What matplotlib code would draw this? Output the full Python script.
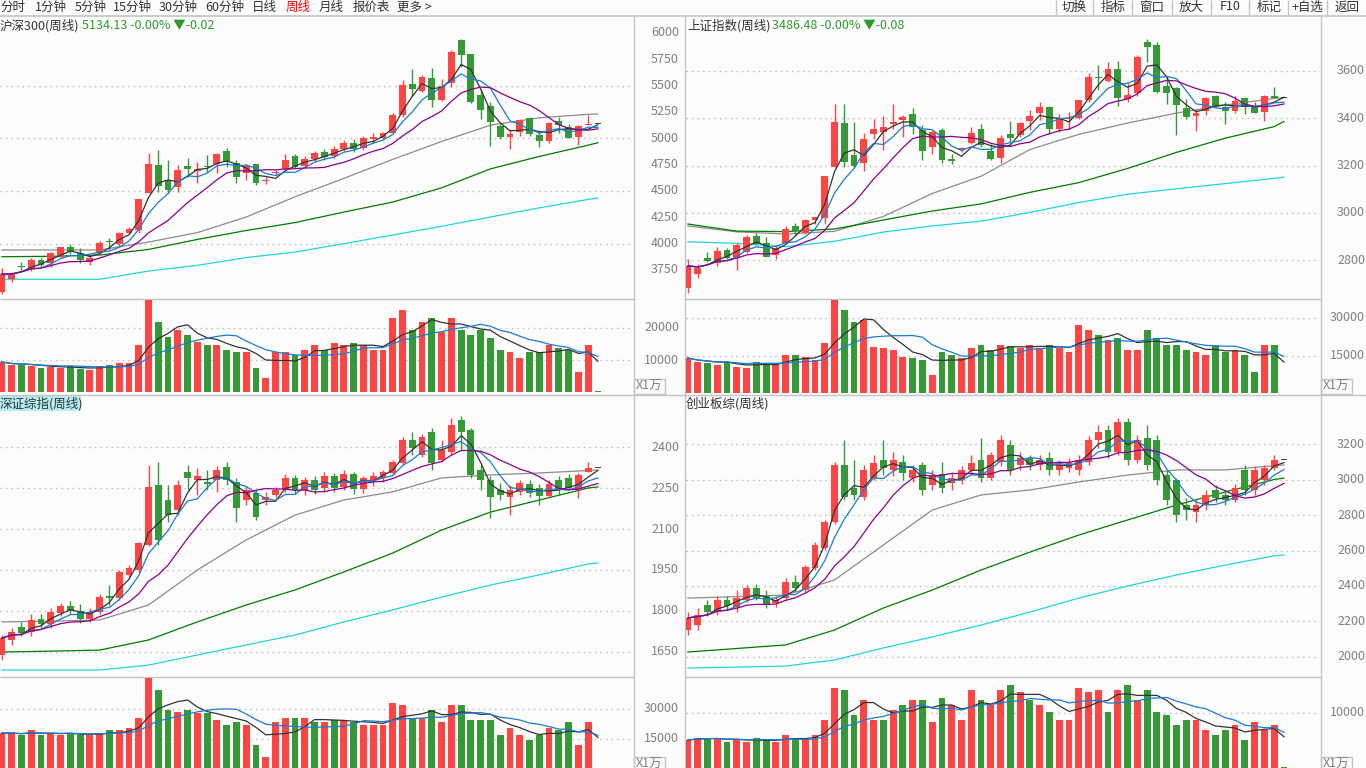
import numpy as np
import pandas as pd
import matplotlib
matplotlib.use('Agg')
import matplotlib.pyplot as plt
from matplotlib.patches import Rectangle
from matplotlib.transforms import blended_transform_factory

plt.rcParams['font.family'] = ['Noto Sans CJK SC', 'DejaVu Sans']

W, H = 1366, 768
BG = '#fcfcfc'
RED = '#ff4444'
GREEN = '#359a35'
FLAT = '#404040'
SEP = '#c4c4c4'
TXT = '#808080'
GRID = '#b8b8b8'
MA_COL = ['#333333', '#1a7bd6', '#8b008b']          # short MAs
MA_N = [3, 5, 10]
LONG_COL = ['#8c8c8c', '#007d00', '#22d4dc']        # long MAs

# ---------------- 沪深300 (weekly) ----------------
hs300_open = [3544, 3662, 3778, 3757, 3845, 3813, 3871, 3971, 3908, 3829,
              3908, 4025, 3997, 4098, 4130, 4478, 4747, 4604, 4541, 4737,
              4693, 4735, 4756, 4880, 4763, 4668, 4756, 4592, 4668, 4706,
              4835, 4740, 4800, 4870, 4830, 4900, 4960, 4910, 4990, 5000,
              5053, 5222, 5516, 5449, 5570, 5364, 5522, 5934, 5801, 5411,
              5307, 5120, 5016, 5063, 5190, 5032, 4978, 5167, 5110, 5016,
              5127, 5134.13]
hs300_close = [3712, 3712, 3774, 3845, 3797, 3908, 3965, 3918, 3845, 3867,
               4003, 4015, 4098, 4139, 4421, 4756, 4550, 4509, 4699, 4709,
               4706, 4728, 4851, 4778, 4636, 4740, 4573, 4602, 4683, 4794,
               4731, 4800, 4860, 4820, 4900, 4960, 4900, 5000, 5010, 5048,
               5222, 5506, 5468, 5585, 5364, 5497, 5817, 5791, 5348, 5269,
               5158, 5016, 5041, 5174, 5041, 4978, 5143, 5127, 5006, 5117,
               5134.15, 5134.13]
hs300_high = [3766, 3728, 3823, 3861, 3861, 3924, 3971, 3997, 3962, 3892,
              4025, 4051, 4113, 4155, 4421, 4858, 4889, 4794, 4747, 4810,
              4778, 4842, 4864, 4911, 4794, 4756, 4756, 4636, 4699, 4851,
              4848, 4830, 4880, 4900, 4930, 4980, 4990, 5020, 5050, 5063,
              5238, 5554, 5655, 5601, 5665, 5560, 5839, 5943, 5801, 5466,
              5348, 5136, 5086, 5181, 5200, 5063, 5158, 5200, 5136, 5127,
              5222, 5134.13]
hs300_low = [3522, 3639, 3750, 3743, 3781, 3776, 3864, 3902, 3819, 3797,
             3892, 3940, 3971, 4092, 4098, 4478, 4493, 4484, 4493, 4636,
             4573, 4683, 4674, 4731, 4573, 4604, 4557, 4567, 4652, 4706,
             4715, 4720, 4780, 4790, 4810, 4880, 4870, 4890, 4960, 4991,
             5048, 5200, 5405, 5443, 5300, 5354, 5490, 5680, 5333, 5181,
             4927, 4991, 4896, 5022, 5022, 4915, 4953, 5053, 5000, 4937,
             5127, 5134.13]
hs300_vol = [9375, 8438, 8438, 8125, 7500, 7813, 7500, 8125, 7188, 6875,
             8125, 8438, 9063, 9063, 14688, 28750, 21875, 17188, 19375, 17813,
             15625, 14688, 14688, 13125, 12500, 12500, 7500, 4375, 12500, 12500,
             11563, 13125, 14688, 13125, 15313, 14688, 15313, 14688, 13125, 13125,
             23125, 25625, 19375, 21875, 23125, 18750, 23125, 19375, 17813, 19375,
             16875, 13125, 12500, 10625, 12500, 12500, 14688, 13750, 13125, 6250,
             14688, 300]

# long moving averages read at these candle positions
knot_idx = [0, 5, 10, 15, 20, 25, 30, 35, 40, 45, 50, 55, 60, 61]
hs300_ma30 = [3940, 3940, 3940, 4015, 4105, 4253, 4445, 4620, 4800, 4970, 5125, 5195, 5228, 5231]
hs300_ma60 = [3876, 3880, 3892, 3945, 4040, 4125, 4200, 4300, 4395, 4530, 4710, 4828, 4935, 4958]
hs300_ma120 = [3662, 3662, 3662, 3740, 3794, 3868, 3920, 4000, 4082, 4165, 4253, 4340, 4420, 4434]

# ---------------- 上证指数 (weekly) ----------------
sh_open = [2681, 2742, 2809, 2787, 2843, 2815, 2836, 2902, 2874, 2822,
           2874, 2945, 2914, 2970, 2977, 3193, 3381, 3245, 3212, 3334,
           3343, 3376, 3393, 3418, 3351, 3280, 3351, 3229, 3266, 3294,
           3355, 3263, 3233, 3334, 3329, 3390, 3424, 3447, 3354, 3396,
           3400, 3477, 3575, 3559, 3609, 3482, 3508, 3721, 3710, 3537,
           3527, 3442, 3410, 3432, 3494, 3447, 3432, 3485, 3447, 3428,
           3492.5, 3486.48]
sh_close = [2776, 2767, 2798, 2839, 2811, 2864, 2899, 2869, 2815, 2850,
            2932, 2925, 2970, 2982, 3156, 3386, 3217, 3198, 3313, 3355,
            3363, 3384, 3407, 3362, 3263, 3343, 3224, 3221, 3273, 3337,
            3287, 3228, 3316, 3316, 3379, 3410, 3447, 3354, 3400, 3401,
            3477, 3576, 3571, 3609, 3485, 3499, 3661, 3703, 3513, 3508,
            3456, 3407, 3421, 3486, 3452, 3432, 3474, 3449, 3424, 3494,
            3486.56, 3486.48]
sh_high = [2804, 2783, 2835, 2855, 2850, 2874, 2907, 2914, 2899, 2860,
           2945, 2959, 2973, 2984, 3156, 3461, 3461, 3386, 3337, 3396,
           3410, 3461, 3413, 3442, 3372, 3351, 3358, 3249, 3280, 3362,
           3375, 3291, 3329, 3390, 3386, 3435, 3470, 3452, 3418, 3428,
           3477, 3593, 3625, 3638, 3642, 3548, 3668, 3735, 3721, 3579,
           3531, 3480, 3438, 3491, 3499, 3470, 3494, 3489, 3470, 3497,
           3531, 3486.48]
sh_low = [2660, 2724, 2794, 2776, 2806, 2759, 2832, 2864, 2812, 2804,
          2872, 2907, 2911, 2953, 2956, 3193, 3195, 3189, 3179, 3311,
          3266, 3354, 3322, 3334, 3224, 3249, 3212, 3207, 3259, 3291,
          3280, 3224, 3212, 3297, 3322, 3351, 3393, 3334, 3343, 3354,
          3396, 3470, 3520, 3555, 3452, 3470, 3494, 3639, 3506, 3461,
          3329, 3396, 3348, 3414, 3447, 3376, 3421, 3418, 3421, 3390,
          3486, 3486.48]
sh_vol = [14209, 12630, 12236, 11446, 12630, 10657, 10262, 12630, 12236, 12236,
          15393, 15393, 14604, 13420, 20130, 37102, 33155, 28418, 29208, 18551,
          18156, 17367, 14604, 14209, 13420, 7499, 16577, 15393, 14209, 18156,
          19340, 17367, 19340, 18946, 18156, 19340, 18156, 19340, 18156, 16577,
          27234, 25261, 23287, 21314, 22103, 17367, 17367, 25261, 22103, 19340,
          19340, 17367, 16577, 15393, 19340, 16577, 17367, 15393, 8683, 19340,
          19340, 400]
sh_ma30 = [2945, 2920, 2911, 2922, 2985, 3082, 3155, 3268, 3332, 3380, 3422, 3456, 3484, 3487]
sh_ma60 = [2953, 2923, 2921, 2932, 2970, 3008, 3038, 3087, 3128, 3188, 3256, 3316, 3365, 3386]
sh_ma120 = [2878, 2871, 2857, 2880, 2919, 2945, 2965, 3002, 3044, 3079, 3102, 3124, 3146, 3151]

# ---------------- 深证综指 (weekly) ----------------
sz_open = [1639, 1694, 1741, 1723, 1771, 1752, 1793, 1818, 1800, 1771,
           1796, 1855, 1847, 1932, 1950, 2041, 2261, 2206, 2170, 2308,
           2279, 2272, 2279, 2327, 2272, 2206, 2232, 2206, 2224, 2243,
           2286, 2243, 2279, 2250, 2294, 2254, 2301, 2246, 2279, 2286,
           2305, 2341, 2426, 2371, 2455, 2352, 2382, 2499, 2462, 2316,
           2279, 2243, 2217, 2235, 2264, 2250, 2221, 2279, 2286, 2243,
           2308, 2323]
sz_close = [1701, 1723, 1719, 1767, 1752, 1796, 1818, 1800, 1771, 1796,
            1851, 1847, 1943, 1957, 2049, 2253, 2060, 2151, 2261, 2286,
            2294, 2264, 2316, 2279, 2177, 2243, 2144, 2217, 2243, 2286,
            2243, 2279, 2243, 2294, 2250, 2301, 2246, 2286, 2294, 2308,
            2345, 2426, 2396, 2437, 2341, 2389, 2480, 2455, 2297, 2279,
            2217, 2224, 2243, 2268, 2232, 2221, 2264, 2243, 2250, 2297,
            2323, 2323]
sz_high = [1712, 1738, 1760, 1789, 1789, 1811, 1829, 1837, 1826, 1811,
           1862, 1895, 1950, 1968, 2052, 2334, 2345, 2261, 2279, 2334,
           2323, 2316, 2330, 2345, 2286, 2257, 2243, 2235, 2254, 2301,
           2297, 2290, 2294, 2308, 2305, 2316, 2308, 2294, 2308, 2316,
           2352, 2437, 2455, 2448, 2470, 2426, 2506, 2514, 2470, 2334,
           2294, 2268, 2261, 2279, 2279, 2264, 2279, 2294, 2301, 2305,
           2345, 2323]
sz_low = [1621, 1676, 1708, 1708, 1738, 1738, 1782, 1789, 1756, 1760,
          1789, 1822, 1840, 1921, 1939, 2038, 2041, 2126, 2151, 2243,
          2224, 2243, 2235, 2261, 2126, 2188, 2133, 2188, 2213, 2235,
          2228, 2224, 2228, 2235, 2235, 2243, 2228, 2232, 2257, 2272,
          2297, 2334, 2371, 2364, 2316, 2345, 2371, 2389, 2286, 2243,
          2140, 2206, 2151, 2224, 2217, 2188, 2213, 2224, 2243, 2213,
          2308, 2323]
sz_vol = [18000, 18000, 17000, 19500, 17000, 18000, 17000, 18000, 17000, 17000,
          18000, 19500, 19500, 20500, 25500, 45500, 39500, 29500, 28500, 29500,
          28000, 28000, 24500, 22000, 23500, 22000, 12000, 6000, 23500, 25500,
          25500, 25500, 23500, 23500, 24500, 24500, 23500, 22000, 22000, 22000,
          33000, 32000, 25500, 25500, 29500, 23500, 32000, 32000, 24500, 24500,
          24500, 17000, 20500, 17000, 14500, 17000, 20500, 19500, 23500, 12000,
          23500, 500]
sz_ma30 = [1760, 1763, 1767, 1822, 1950, 2060, 2151, 2206, 2236, 2287, 2298, 2305, 2314, 2316]
sz_ma60 = [1650, 1653, 1657, 1694, 1760, 1822, 1877, 1943, 2012, 2096, 2162, 2206, 2250, 2254]
sz_ma120 = [1584, 1584, 1584, 1602, 1639, 1676, 1712, 1760, 1804, 1851, 1895, 1932, 1972, 1976]

# ---------------- 创业板综 (weekly) ----------------
cy_open = [2152, 2180, 2293, 2254, 2321, 2282, 2321, 2389, 2344, 2304,
           2332, 2423, 2377, 2501, 2614, 2761, 3082, 2952, 2901, 3009,
           3110, 3054, 3099, 3009, 3082, 2969, 3031, 2980, 2997, 3054,
           3110, 3009, 3099, 3194, 3082, 3121, 3082, 3121, 3054, 3065,
           3054, 3099, 3223, 3279, 3155, 3324, 3110, 3234, 3223, 3025,
           2997, 2856, 2817, 2856, 2941, 2914, 2885, 3054, 2941, 2997,
           3065, 3110]
cy_close = [2220, 2237, 2254, 2321, 2287, 2332, 2389, 2332, 2293, 2321,
            2423, 2389, 2507, 2631, 2761, 3082, 2901, 2914, 3054, 3093,
            3065, 3110, 3037, 3054, 2941, 3025, 2952, 3009, 3054, 3093,
            3009, 3138, 3223, 3054, 3121, 3082, 3110, 3054, 3082, 3093,
            3110, 3223, 3268, 3155, 3324, 3110, 3223, 3082, 2997, 2885,
            2800, 2828, 2856, 2914, 2896, 2885, 2952, 2941, 3054, 3065,
            3110, 3110]
cy_high = [2254, 2276, 2321, 2344, 2344, 2377, 2406, 2411, 2377, 2344,
           2445, 2462, 2518, 2648, 2772, 3099, 3223, 3110, 3082, 3138,
           3223, 3155, 3138, 3082, 3099, 3054, 3099, 3042, 3076, 3138,
           3234, 3155, 3251, 3223, 3155, 3138, 3138, 3155, 3110, 3121,
           3138, 3245, 3307, 3307, 3346, 3346, 3251, 3307, 3251, 3054,
           3009, 2896, 2885, 2941, 2969, 2941, 2975, 3082, 3076, 3082,
           3138, 3110]
cy_low = [2124, 2152, 2231, 2237, 2265, 2254, 2310, 2321, 2276, 2282,
          2321, 2366, 2366, 2490, 2603, 2749, 2885, 2885, 2885, 2997,
          3025, 3020, 2997, 2986, 2914, 2941, 2924, 2941, 2975, 3025,
          2986, 2997, 3076, 3025, 3054, 3054, 3054, 3025, 3025, 3042,
          3025, 3082, 3178, 3121, 3138, 3082, 3093, 3054, 2969, 2856,
          2761, 2772, 2761, 2828, 2873, 2856, 2873, 2914, 2914, 2969,
          3054, 3110]
cy_vol = [5090, 5454, 5454, 5454, 4727, 5090, 4727, 5454, 5090, 4727,
          6000, 5454, 5454, 6000, 8726, 14544, 14180, 9635, 12362, 8726,
          8726, 10544, 11453, 12362, 12362, 8363, 12726, 11453, 8726, 14180,
          12362, 11453, 14180, 15089, 13817, 12362, 11453, 10181, 8726, 8726,
          14544, 13817, 14180, 10181, 14180, 15089, 12362, 14180, 10181, 9635,
          7817, 8726, 8726, 6908, 6000, 6908, 7817, 5090, 8363, 6908,
          7817, 200]
cy_ma30 = [2332, 2340, 2349, 2434, 2631, 2828, 2913, 2941, 2986, 3025, 3054, 3054, 3078, 3082]
cy_ma60 = [2028, 2048, 2068, 2152, 2276, 2377, 2490, 2591, 2687, 2772, 2856, 2930, 3000, 3008]
cy_ma120 = [1938, 1943, 1949, 1983, 2051, 2113, 2180, 2253, 2332, 2400, 2462, 2518, 2570, 2575]

# axis labels
hs300_ticks = [6000, 5750, 5500, 5250, 5000, 4750, 4500, 4250, 4000, 3750]
hs300_grid = [5500, 5000, 4500, 4000]
sh_ticks = [3600, 3400, 3200, 3000, 2800]
sz_ticks = [2400, 2250, 2100, 1950, 1800, 1650]
cy_ticks = [3200, 3000, 2800, 2600, 2400, 2200, 2000]

STEP = 9.77           # px per candle
X0 = -0.2


def px_axes(fig, left, top, right, bottom):
    ax = fig.add_axes([left / W, 1 - bottom / H, (right - left) / W, (bottom - top) / H])
    ax.set_facecolor('none')
    ax.set_axis_off()
    ax.set_xlim(X0, X0 + (right - left) / STEP)
    return ax


def side_labels(ax, ticks, grid, label_right, left, right):
    tr = blended_transform_factory(ax.transAxes, ax.transData)
    xa = (label_right - left) / (right - left)
    for t in ticks:
        ax.text(xa, t, str(t), transform=tr, ha='right', va='center',
                color=TXT, fontsize=9, clip_on=False)
    for g in grid:
        ax.axhline(g, color=GRID, lw=1, ls=(0, (1, 3)))


def draw_panel(fig, box, o, c, h, l, vol, longs, plim, vlim,
               pticks, pgrid, vticks, label_right):
    left, right, top, mid, bottom = box
    axp = px_axes(fig, left, top, right, mid)
    axv = px_axes(fig, left, mid, right, bottom)
    axp.set_ylim(*plim)
    axv.set_ylim(*vlim)

    o, c, h, l, vol = map(np.asarray, (o, c, h, l, vol))
    x = np.arange(len(c))
    col = np.where(c > o, RED, np.where(c < o, GREEN, FLAT))
    one_px = (plim[1] - plim[0]) / (mid - top)

    side_labels(axp, pticks, pgrid, label_right, left, right)
    side_labels(axv, vticks, vticks, label_right, left, right)

    # long MAs under the candles
    for vals, cc in zip(longs, LONG_COL):
        axp.plot(knot_idx, vals, color=cc, lw=0.9, zorder=2)

    axp.vlines(x, l, h, colors=col, lw=1, zorder=3)
    body = np.maximum(np.abs(c - o), one_px)
    axp.bar(x, body, bottom=np.minimum(o, c), width=0.7, color=col, lw=0,
            antialiased=False, zorder=3)

    close = pd.Series(c)
    for n, cc in zip(MA_N, MA_COL):
        axp.plot(x, close.rolling(n, min_periods=1).mean(), color=cc, lw=0.9, zorder=4)

    vcol = np.where(c > o, RED, GREEN)
    axv.bar(x, vol, width=0.7, color=vcol, lw=0, antialiased=False, zorder=3)
    v = pd.Series(vol.astype(float))
    axv.plot(x, v.rolling(5, min_periods=1).mean(), color=MA_COL[0], lw=0.9, zorder=4)
    axv.plot(x, v.rolling(10, min_periods=1).mean(), color=MA_COL[1], lw=0.9, zorder=4)


fig = plt.figure(figsize=(W / 100, H / 100), dpi=100, facecolor=BG)

# frame / toolbar layer
ov = fig.add_axes([0, 0, 1, 1])
ov.set_xlim(0, W)
ov.set_ylim(H, 0)
ov.set_axis_off()
ov.set_facecolor('none')

ov.hlines(15.5, 0, W, color=SEP, lw=1.2)
ov.vlines([633.5, 684.5, 1320.5], 16, H, color=SEP, lw=1)
ov.hlines([299, 677], 0, 633.5, color=SEP, lw=1)
ov.hlines([299, 677], 684.5, 1320.5, color=SEP, lw=1)
ov.hlines(394.5, 0, W, color=SEP, lw=1)

menu = ['分时', '1分钟', '5分钟', '15分钟', '30分钟', '60分钟', '日线', '周线', '月线', '报价表', '更多 >']
menu_x = [0, 35, 75, 113, 159, 205, 252, 286, 319, 353, 397]
for s, mx in zip(menu, menu_x):
    ov.text(mx, 7, s, ha='left', va='center', fontsize=9,
            color='#ff0000' if s == '周线' else '#333333')

tools = ['切换', '指标', '窗口', '放大', 'F10', '标记', '+自选', '返回']
tool_sep = [1055.7, 1093.3, 1132.3, 1171.7, 1210.7, 1249.3, 1288.3, 1327.3, W]
ov.vlines(tool_sep[:-1], 0, 15, color=SEP, lw=1)
for i, s in enumerate(tools):
    ov.text((tool_sep[i] + tool_sep[i + 1]) / 2, 7, s, ha='center', va='center',
            fontsize=9, color='#333333')

# titles
ov.text(0, 26, '沪深300(周线)', ha='left', va='center', fontsize=9, color='#333333')
ov.text(82, 26, '5134.13 -0.00% ▼-0.02', ha='left', va='center', fontsize=9, color='#2e9a2e')
ov.text(687, 26, '上证指数(周线)', ha='left', va='center', fontsize=9, color='#333333')
ov.text(772, 26, '3486.48 -0.00% ▼-0.08', ha='left', va='center', fontsize=9, color='#2e9a2e')
ov.add_patch(Rectangle((0, 396), 81, 15, facecolor='#b4eef0', edgecolor='none'))
ov.text(0, 403.5, '深证综指(周线)', ha='left', va='center', fontsize=9, color='#333333')
ov.text(686, 403.5, '创业板综(周线)', ha='left', va='center', fontsize=9, color='#333333')

for bx, by in [(634, 378.5), (1321, 378.5), (634, 756.5), (1321, 756.5)]:
    ov.add_patch(Rectangle((bx, by), 31, 15, fill=False, edgecolor=SEP, lw=1))
    ov.text(bx + 2, by + 7.5, 'X1万', ha='left', va='center', fontsize=9, color=TXT)

draw_panel(fig, (0, 633, 17, 299, 393), hs300_open, hs300_close, hs300_high, hs300_low,
           hs300_vol, [hs300_ma30, hs300_ma60, hs300_ma120],
           (3474.6, 6151.9), (-312, 29062), hs300_ticks, hs300_grid, [20000, 10000], 679)
draw_panel(fig, (686, 1320, 17, 299, 393), sh_open, sh_close, sh_high, sh_low,
           sh_vol, [sh_ma30, sh_ma60, sh_ma120],
           (2636.0, 3828.3), (395, 37497), sh_ticks, sh_ticks, [30000, 15000], 1365)
draw_panel(fig, (0, 633, 395, 677, 768), sz_open, sz_close, sz_high, sz_low,
           sz_vol, [sz_ma30, sz_ma60, sz_ma120],
           (1558.5, 2590.3), (500, 46000), sz_ticks, sz_ticks, [30000, 15000], 679)
draw_panel(fig, (686, 1320, 395, 677, 768), cy_open, cy_close, cy_high, cy_low,
           cy_vol, [cy_ma30, cy_ma60, cy_ma120],
           (1887.3, 3476.1), (0, 16544), cy_ticks, cy_ticks, [10000], 1365)

fig.savefig('out.png', dpi=100, facecolor=BG)
